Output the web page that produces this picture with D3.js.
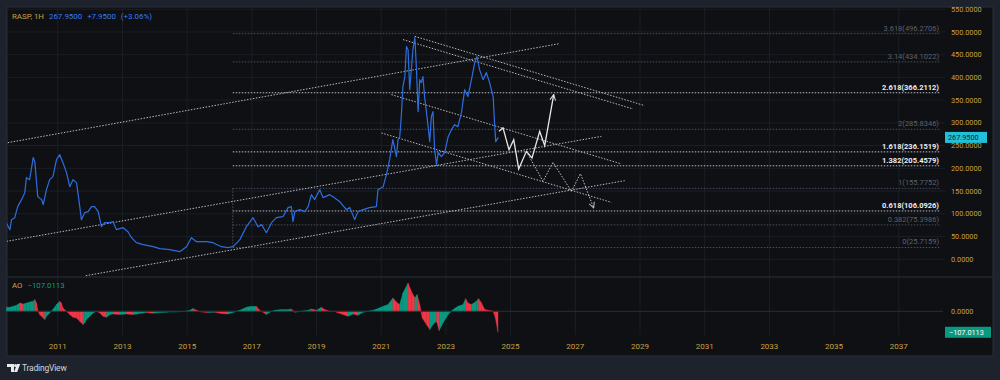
<!DOCTYPE html>
<html><head><meta charset="utf-8">
<script src="https://cdn.jsdelivr.net/npm/d3@7"></script>
<style>
html,body{margin:0;padding:0;background:#1e222d;}
svg{display:block;font-family:Roboto,"Liberation Sans",sans-serif;}
</style></head><body>
<svg id="c" width="1000" height="380"></svg>
<script>
// ---------- DATA ----------
const priceYears = [2009.41,2009.52,2009.57,2009.67,2009.76,2009.88,2009.98,2010.03,2010.13,2010.24,
2010.29,2010.38,2010.50,2010.55,2010.65,2010.75,2010.85,2010.96,2011.06,2011.16,
2011.27,2011.37,2011.47,2011.58,2011.68,2011.73,2011.83,2011.94,2012.04,2012.14,
2012.25,2012.35,2012.45,2012.61,2012.71,2012.81,2013.02,2013.17,2013.28,2013.43,
2013.64,2013.95,2014.15,2014.46,2014.77,2014.98,2015.13,2015.29,2015.60,2015.80,
2016.06,2016.26,2016.42,2016.63,2016.83,2017.04,2017.19,2017.30,2017.45,2017.61,
2017.76,2017.96,2018.12,2018.22,2018.27,2018.33,2018.48,2018.64,2018.74,2018.84,
2018.94,2019.10,2019.20,2019.41,2019.51,2019.72,2019.92,2020.03,2020.18,2020.28,
2020.44,2020.64,2020.85,2020.90,2021.06,2021.16,2021.26,2021.31,2021.36,2021.47,
2021.52,2021.57,2021.62,2021.67,2021.73,2021.78,2021.83,2021.88,2021.93,2021.98,
2022.04,2022.09,2022.14,2022.19,2022.24,2022.29,2022.34,2022.40,2022.45,2022.50,
2022.55,2022.60,2022.65,2022.71,2022.76,2022.86,2022.96,2023.07,2023.17,2023.27,
2023.37,2023.48,2023.58,2023.68,2023.79,2023.89,2023.96,2024.04,2024.15,2024.25,
2024.35,2024.46,2024.51,2024.54,2024.62];
const priceValues = [80.3,64.9,87.0,91.3,115.6,131.0,146.4,179.4,175.0,223.4,
214.6,137.6,131.0,120.0,153.0,175.0,181.6,219.0,230.0,212.4,
190.4,159.6,175.0,168.4,115.6,87.0,102.4,104.6,115.6,115.6,
104.6,71.5,80.3,80.3,82.5,65.0,69.3,60.5,47.3,36.3,
32.0,27.5,23.1,21.0,16.5,27.5,47.3,38.5,38.5,36.3,
27.5,25.3,27.5,43.0,71.5,91.3,71.5,76.0,58.3,80.3,
91.3,93.5,113.4,115.6,82.5,104.6,109.0,104.6,115.6,142.0,
131.0,153.0,135.4,142.0,137.6,126.6,109.0,113.4,87.0,104.6,
109.0,113.4,115.6,153.0,159.6,186.0,219.0,241.0,263.0,225.6,
263.0,267.5,313.7,379.7,401.7,467.8,461.0,373.0,417.0,461.0,
487.6,417.0,324.7,395.0,388.5,401.7,357.7,322.5,291.7,258.6,
313.7,324.7,241.0,208.0,234.4,225.6,234.4,269.6,285.0,296.0,
291.7,322.5,373.0,357.7,395.0,432.5,445.7,417.0,395.0,410.5,
388.5,357.7,291.7,258.6,267.95];

const aoYears = [2009.41,2009.52,2009.62,2009.72,2009.83,2009.93,2010.03,2010.13,2010.24,2010.29,
2010.34,2010.39,2010.44,2010.55,2010.60,2010.65,2010.75,2010.85,2010.96,2011.06,
2011.11,2011.16,2011.27,2011.37,2011.47,2011.58,2011.68,2011.78,2011.83,2011.89,
2011.99,2012.09,2012.20,2012.30,2012.40,2012.51,2012.61,2012.71,2012.92,2013.12,
2013.33,2013.53,2013.74,2013.95,2014.15,2014.36,2014.46,2014.62,2014.93,2015.08,
2015.18,2015.29,2015.44,2015.65,2015.85,2016.06,2016.26,2016.47,2016.68,2016.83,
2016.99,2017.14,2017.24,2017.35,2017.45,2017.55,2017.71,2017.92,2018.12,2018.22,
2018.33,2018.53,2018.74,2018.84,2019.00,2019.15,2019.25,2019.41,2019.56,2019.62,
2019.82,2019.97,2020.13,2020.28,2020.44,2020.59,2020.75,2020.90,2021.06,2021.21,
2021.36,2021.47,2021.57,2021.67,2021.83,2021.93,2022.04,2022.11,2022.19,2022.27,
2022.40,2022.50,2022.60,2022.71,2022.79,2022.91,2023.07,2023.22,2023.37,2023.53,
2023.61,2023.68,2023.79,2023.94,2024.01,2024.10,2024.20,2024.35,2024.46,2024.53,
2024.61];
const aoValues = [20.4,20.4,25.5,30.6,42.3,37.2,42.3,47.4,51,59.7,
42.3,0,-16.8,-34.2,-42.3,-25.5,-8.7,8.7,34.2,51,
42.3,16.8,0,-16.8,-30.6,-34.2,-51,-67.8,-59.7,-42.3,
-25.5,-8.7,0,-8.7,-25.5,-30.6,-16.8,-13.8,-16.8,-13.8,
-16.8,-11.7,-6.6,-10.2,-6.6,-5.1,-3.6,-3.6,0,5.1,
13.8,5.1,-3.6,-6.6,-5.1,-11.7,-13.8,-3.6,8.7,20.4,
25.5,25.5,5.1,-5.1,-16.8,-5.1,5.1,8.7,8.7,11.7,
-5.1,0,5.1,11.7,5.1,20.4,8.7,0,0,-5.1,
-16.8,-25.5,-13.8,-20.4,-5.1,0,5.1,13.8,25.5,34.2,
67.8,47.4,34.2,93.3,144.3,102,67.8,85.2,34.2,-34.2,
-67.8,-93.3,-67.8,-51,-98.4,-59.7,-16.8,8.7,25.5,34.2,
64.8,42.3,34.2,51,64.8,42.3,8.7,3.6,0,-34.2,
-107.0113];

const fibRatios = ["3.618","3.14","2.618","2","1.618","1.382","1","0.618","0.382","0"];
const fibValues = [496.2706,434.1022,366.2112,285.8346,236.1519,205.4579,155.7752,106.0926,75.3986,25.7159];
const fibHighlight = [false,false,true,false,true,true,false,true,false,false];
const fibStartYear = 2016.41;

const priceTicks = [0,50,100,150,200,250,300,350,400,450,500,550];
const yearTicks = [2011,2013,2015,2017,2019,2021,2023,2025,2027,2029,2031,2033,2035,2037];

const lineStartYears  = [2009.454,2009.414,2011.866,2021.674,2022.036,2021.315,2021.006];
const lineStartPrices = [256.4,39.2,-36.3,483.2,490.4,362.1,277.8];
const lineEndYears    = [2026.518,2027.807,2028.527,2028.784,2029.145,2028.425,2028.116];
const lineEndPrices   = [474.4,270.3,172.8,330.6,337.9,209.6,125.0];

const pathYears  = [2024.641,2024.765,2024.950,2025.096,2025.250,2025.488,2025.662,2025.899,2026.054,2026.332];
const pathPrices = [281.3,288.8,241.0,263.0,198.5,237.3,222.8,281.3,249.8,362.1];
const altYears  = [2025.488,2026.002,2026.311,2026.880,2027.158,2027.569];
const altPrices = [237.3,171.3,213.1,149.2,188.2,112.7];

const symbol = "RASP, 1H";
const lastPrice = 267.95, priceChange = 7.95, changePct = 3.06;
const aoLast = -107.0113;

// ---------- LAYOUT ----------
const svg = d3.select("#c");
const FL=7, FT=7, FR=993, FB=356, PR=945;
const MT=7, MB=277, AT=277, AB=335;
const gold="#c9a244", grid="#1b1e26";
const x = d3.scaleLinear().domain([2009.43,2038.43]).range([FL,PR]);
const y = d3.scaleLinear().domain([-39.2,554.9]).range([MB,MT]);
const yA = d3.scaleLinear().domain([-120.9,175]).range([AB,AT]);

const defs = svg.append("defs");
defs.append("clipPath").attr("id","mainClip").append("rect").attr("x",FL).attr("y",MT).attr("width",PR-FL).attr("height",MB-MT);
defs.append("clipPath").attr("id","frameClip").append("rect").attr("x",FL).attr("y",FT).attr("width",FR-FL).attr("height",FB-FT);
function chevron(id,color){
  defs.append("marker").attr("id",id).attr("markerUnits","userSpaceOnUse")
    .attr("viewBox","0 0 10 10").attr("refX",9).attr("refY",5)
    .attr("markerWidth",7).attr("markerHeight",7).attr("orient","auto")
    .append("path").attr("d","M1,1 L9,5 L1,9").attr("fill","none").attr("stroke",color).attr("stroke-width",1.4);
}
chevron("arrW","#e8e8e8");
chevron("arrG","#c4c4c4");

// frame
svg.append("rect").attr("x",FL).attr("y",FT).attr("width",FR-FL).attr("height",FB-FT)
  .attr("fill","#0e1014").attr("stroke","#2a2e39").attr("stroke-width",1);

// grid
svg.append("g").selectAll("line").data(yearTicks).join("line")
  .attr("x1",d=>x(d)).attr("x2",d=>x(d)).attr("y1",FT).attr("y2",AB)
  .attr("stroke",grid).attr("stroke-width",1);
svg.append("g").selectAll("line").data(priceTicks).join("line")
  .attr("x1",FL).attr("x2",PR).attr("y1",d=>y(d)).attr("y2",d=>y(d))
  .attr("stroke",grid).attr("stroke-width",1).attr("clip-path","url(#mainClip)");

// pane separator
svg.append("line").attr("x1",FL).attr("x2",FR).attr("y1",MB).attr("y2",MB).attr("stroke","#2a2e39");

// main pane
const main = svg.append("g").attr("clip-path","url(#mainClip)");

// fib levels
const fibG = main.append("g");
fibValues.forEach((v,i)=>{
  fibG.append("line").attr("x1",x(fibStartYear)).attr("x2",PR-5).attr("y1",y(v)).attr("y2",y(v))
    .attr("stroke",fibHighlight[i]?"#b9bcc4":"#4b4f5a").attr("stroke-width",1)
    .attr("stroke-dasharray","1.5,1.5");
});
fibG.append("line").attr("x1",x(fibStartYear)).attr("x2",x(fibStartYear))
  .attr("y1",y(fibValues[6])).attr("y2",y(fibValues[9]))
  .attr("stroke","#4b4f5a").attr("stroke-dasharray","1.5,1.5");

// trend lines
main.append("g").selectAll("line").data(lineStartYears).join("line")
  .attr("x1",(d,i)=>x(d)).attr("y1",(d,i)=>y(lineStartPrices[i]))
  .attr("x2",(d,i)=>x(lineEndYears[i])).attr("y2",(d,i)=>y(lineEndPrices[i]))
  .attr("stroke","#b7b9bf").attr("stroke-width",1).attr("stroke-dasharray","1.5,1.5");

// price line
const line = d3.line().x(d=>x(d[0])).y(d=>y(d[1]));
main.append("path").datum(priceYears.map((t,i)=>[t,priceValues[i]]))
  .attr("d",line).attr("fill","none").attr("stroke","#2e6de0").attr("stroke-width",1.2)
  .attr("stroke-linejoin","round");

// projections
main.append("path").datum(altYears.map((t,i)=>[t,altPrices[i]]))
  .attr("d",line).attr("fill","none").attr("stroke","#c4c4c4").attr("stroke-width",1)
  .attr("stroke-dasharray","1.5,1.5").attr("marker-end","url(#arrG)");
main.append("path").datum(pathYears.map((t,i)=>[t,pathPrices[i]]))
  .attr("d",line).attr("fill","none").attr("stroke","#e8e8e8").attr("stroke-width",1.3)
  .attr("marker-end","url(#arrW)");

// fib labels
const labG = svg.append("g").attr("font-size","7.5px").attr("text-anchor","end");
fibValues.forEach((v,i)=>{
  labG.append("text").attr("x",PR-6).attr("y",y(v)-3)
    .attr("fill",fibHighlight[i]?"#eceef2":"#5d616c")
    .attr("font-weight",fibHighlight[i]?"700":"400")
    .text(fibRatios[i]+"("+v.toFixed(4)+")");
});

// price axis labels
svg.append("g").attr("clip-path","url(#frameClip)").attr("font-size","7.3px").attr("fill",gold)
  .selectAll("text").data(priceTicks).join("text")
  .attr("x",951).attr("y",d=>y(d)+2.6).text(d=>d.toFixed(4));

// last price tag
const tagY = y(lastPrice);
svg.append("rect").attr("x",945).attr("y",tagY-5.5).attr("width",42).attr("height",11).attr("fill","#22c0d8");
svg.append("text").attr("x",948).attr("y",tagY+2.6).attr("font-size","7.3px").attr("fill","#10222a").text(lastPrice.toFixed(4));

// AO pane
const aoG = svg.append("g");
svg.append("line").attr("x1",FL).attr("x2",PR-2).attr("y1",yA(0)).attr("y2",yA(0)).attr("stroke","#2a2e39");
const area = d3.area().x(d=>x(d[0])).y0(yA(0)).y1(d=>yA(d[1]));
for(let i=0;i<aoYears.length-1;i++){
  const seg=[[aoYears[i],aoValues[i]],[aoYears[i+1],aoValues[i+1]]];
  const c = aoValues[i+1]>=aoValues[i]?"#089981":"#f23645";
  aoG.append("path").datum(seg).attr("d",area).attr("fill",c).attr("stroke",c).attr("stroke-width",0.4);
}
svg.append("text").attr("x",951).attr("y",yA(0)+2.6).attr("font-size","7.3px").attr("fill",gold).text("0.0000");
const aoTagY = yA(aoLast);
svg.append("rect").attr("x",945).attr("y",aoTagY-5.5).attr("width",46).attr("height",11).attr("fill","#089981");
svg.append("text").attr("x",949).attr("y",aoTagY+2.6).attr("font-size","7.3px").attr("fill","#ffffff").text("\u2212"+Math.abs(aoLast).toFixed(4));

// AO header
const aoH = svg.append("text").attr("x",12).attr("y",287.5).attr("font-size","7.8px");
aoH.append("tspan").attr("fill",gold).text("AO");
aoH.append("tspan").attr("dx",5).attr("fill","#0c9a84").text("\u2212"+Math.abs(aoLast).toFixed(4));

// x axis labels
svg.append("g").attr("font-size","8px").attr("fill",gold).attr("text-anchor","middle")
  .selectAll("text").data(yearTicks).join("text")
  .attr("x",d=>x(d)).attr("y",349).text(d=>d);

// header
const hd = svg.append("text").attr("x",12).attr("y",18.5).attr("font-size","7.9px");
hd.append("tspan").attr("fill",gold).text(symbol);
hd.append("tspan").attr("dx",5).attr("fill","#3b7cf0").text(lastPrice.toFixed(4));
hd.append("tspan").attr("dx",5).attr("fill","#3b7cf0").text("+"+priceChange.toFixed(4));
hd.append("tspan").attr("dx",5).attr("fill","#3b7cf0").text("(+"+changePct.toFixed(2)+"%)");

// TradingView logo
const lg = svg.append("g").attr("fill","#e8eaee");
lg.append("path").attr("d","M7,364 h7 v8 h-3 v-5 h-4 z");
lg.append("circle").attr("cx",15.5).attr("cy",365.5).attr("r",1.5);
lg.append("path").attr("d","M17,364 h3.2 l-3,8 h-3.2 z");
svg.append("text").attr("x",22).attr("y",371).attr("font-size","8.5px").attr("fill","#d1d4dc").attr("letter-spacing","-0.2").text("TradingView");
</script>
</body></html>
